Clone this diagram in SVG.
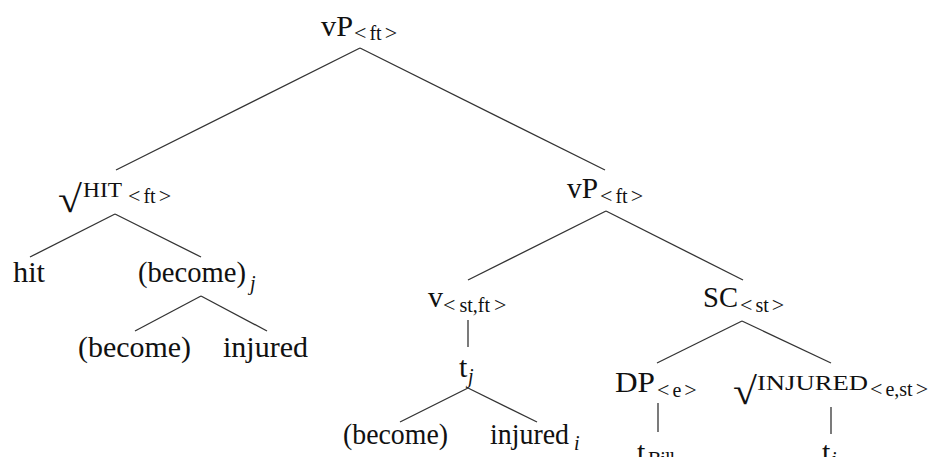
<svg xmlns="http://www.w3.org/2000/svg" width="930" height="457" viewBox="0 0 930 457">
  <style>
    text { font-family: "Liberation Serif", "Times New Roman", serif; fill: #111111; }
    .lab { font-size: 30px; }
    .sub { font-size: 20px; }
    .ang { font-size: 22px; }
    .sc { font-size: 22px; }
    .rad { font-size: 38px; }
    .it { font-size: 20px; font-style: italic; }
    .edges line { stroke: #333; stroke-width: 1.3; }
  </style>
  <rect width="930" height="457" fill="#ffffff"/>

  <!-- connectors -->
  <g class="edges" id="edges">
    <line x1="360" y1="48" x2="116" y2="170"/>
    <line x1="360" y1="48" x2="605" y2="170"/>
    <line x1="115" y1="214" x2="30" y2="257"/>
    <line x1="115" y1="214" x2="201" y2="257"/>
    <line x1="201" y1="296" x2="135" y2="331"/>
    <line x1="201" y1="296" x2="267" y2="331"/>
    <line x1="606" y1="211" x2="468" y2="280"/>
    <line x1="606" y1="211" x2="743" y2="280"/>
    <line x1="468" y1="320" x2="468" y2="347"/>
    <line x1="468" y1="388" x2="400" y2="422"/>
    <line x1="468" y1="388" x2="537" y2="422"/>
    <line x1="742" y1="321" x2="657" y2="363"/>
    <line x1="742" y1="321" x2="831" y2="363"/>
    <line x1="658" y1="403" x2="658" y2="432"/>
    <line x1="831" y1="407" x2="831" y2="434"/>
  </g>

  <!-- root vP -->
  <g id="vP-root">
    <text class="lab" x="321" y="36" textLength="32" lengthAdjust="spacingAndGlyphs">vP</text>
    <text class="sub" x="354" y="40"><tspan class="ang">&lt;</tspan><tspan dx="3">ft</tspan><tspan class="ang" dx="3">&gt;</tspan></text>
  </g>

  <!-- root HIT -->
  <g id="hit-root">
    <text class="rad" x="58" y="212" textLength="24" lengthAdjust="spacingAndGlyphs">√</text>
    <text class="sc" x="83" y="197" textLength="39" lengthAdjust="spacingAndGlyphs">HIT</text>
    <text class="sub" x="128" y="203"><tspan class="ang">&lt;</tspan><tspan dx="3">ft</tspan><tspan class="ang" dx="3">&gt;</tspan></text>
  </g>

  <g id="hit">
    <text class="lab" x="13" y="282" textLength="32" lengthAdjust="spacingAndGlyphs">hit</text>
  </g>

  <g id="become-j">
    <text class="lab" x="138" y="282" textLength="108" lengthAdjust="spacingAndGlyphs">(become)</text>
    <text class="it" x="250" y="290">j</text>
  </g>

  <g id="become-1">
    <text class="lab" x="78" y="357" textLength="113" lengthAdjust="spacingAndGlyphs">(become)</text>
  </g>

  <g id="injured-1">
    <text class="lab" x="223" y="357" textLength="85" lengthAdjust="spacingAndGlyphs">injured</text>
  </g>

  <!-- lower vP -->
  <g id="vP-lower">
    <text class="lab" x="567" y="198" textLength="31" lengthAdjust="spacingAndGlyphs">vP</text>
    <text class="sub" x="600" y="203"><tspan class="ang">&lt;</tspan><tspan dx="3">ft</tspan><tspan class="ang" dx="3">&gt;</tspan></text>
  </g>

  <g id="v">
    <text class="lab" x="428" y="307">v</text>
    <text class="sub" x="443" y="312"><tspan class="ang">&lt;</tspan><tspan dx="4">st,ft</tspan><tspan class="ang" dx="4">&gt;</tspan></text>
  </g>

  <g id="t-j">
    <text class="lab" x="459" y="377">t</text>
    <text class="it" x="468" y="383">j</text>
  </g>

  <g id="become-2">
    <text class="lab" x="343" y="444" textLength="105" lengthAdjust="spacingAndGlyphs">(become)</text>
  </g>

  <g id="injured-i">
    <text class="lab" x="490" y="444" textLength="79" lengthAdjust="spacingAndGlyphs">injured</text>
    <text class="it" x="574" y="450">i</text>
  </g>

  <g id="SC">
    <text class="lab" x="703" y="307" textLength="35" lengthAdjust="spacingAndGlyphs">SC</text>
    <text class="sub" x="740" y="312"><tspan class="ang">&lt;</tspan><tspan dx="3">st</tspan><tspan class="ang" dx="3">&gt;</tspan></text>
  </g>

  <g id="DP">
    <text class="lab" x="615" y="392" textLength="40" lengthAdjust="spacingAndGlyphs">DP</text>
    <text class="sub" x="657" y="397"><tspan class="ang">&lt;</tspan><tspan dx="3">e</tspan><tspan class="ang" dx="3">&gt;</tspan></text>
  </g>

  <g id="injured-root">
    <text class="rad" x="733" y="404" textLength="24" lengthAdjust="spacingAndGlyphs">√</text>
    <text class="sc" x="757" y="390" textLength="111" lengthAdjust="spacingAndGlyphs">INJURED</text>
    <text class="sub" x="870" y="396"><tspan class="ang">&lt;</tspan><tspan dx="3">e,st</tspan><tspan class="ang" dx="3">&gt;</tspan></text>
  </g>

  <g id="t-Bill">
    <text class="lab" x="637" y="462">t</text>
    <text class="sub" x="648" y="466" textLength="27" lengthAdjust="spacing">Bill</text>
  </g>

  <g id="t-i">
    <text class="lab" x="822" y="462">t</text>
    <text class="it" x="831" y="466">i</text>
  </g>
</svg>
